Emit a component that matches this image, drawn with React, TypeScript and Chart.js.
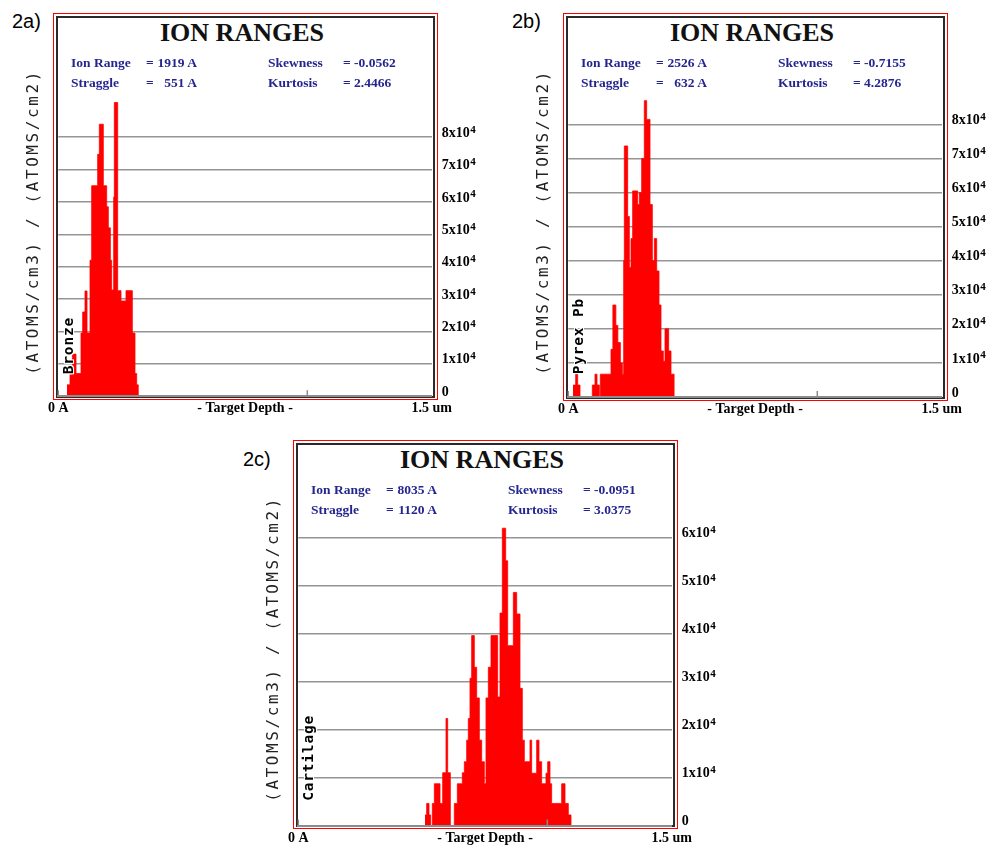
import React, { useEffect, useRef } from "react";
import { Chart, registerables } from "chart.js";

Chart.register(...registerables);

// ---------- data (depth in Å = left edge of each step, value in (atoms/cm3)/(atoms/cm2)) ----------
const DEPTH_A = [349, 470, 564, 711, 912, 979, 1072, 1153, 1273, 1340, 1581, 1648, 1808, 1942, 2009, 2090, 2143, 2224, 2250, 2384, 2518, 2719, 2973, 3080, 3147, 3214];
const ION_A = [3500, 7000, 13000, 7000, 19500, 26000, 32500, 19500, 42000, 65000, 74700, 84000, 65000, 58500, 52000, 42000, 32800, 61500, 90700, 32600, 29400, 32600, 19500, 7000, 3500, 0];

const DEPTH_B = [189, 296, 376, 470, 965, 1072, 1153, 1246, 1286, 1715, 1790, 1910, 1990, 2090, 2170, 2224, 2250, 2384, 2451, 2518, 2585, 2786, 2853, 2946, 3053, 3147, 3281, 3375, 3455, 3549, 3643, 3723, 3816, 3884, 4030, 4124, 4250];
const ION_B = [3500, 6700, 3500, 0, 3500, 6700, 3500, 0, 6700, 14000, 27000, 21000, 16000, 10000, 6700, 40000, 73700, 53000, 38000, 46500, 60500, 56500, 60000, 70000, 87000, 81500, 56500, 40000, 46500, 37000, 27000, 13500, 10500, 20000, 13500, 6700, 0];

const DEPTH_C = [5088, 5155, 5249, 5316, 5383, 5463, 5691, 5798, 5932, 5999, 6106, 6266, 6387, 6587, 6668, 6762, 6828, 6895, 6962, 7069, 7163, 7270, 7364, 7471, 7538, 7632, 7739, 8006, 8100, 8194, 8328, 8408, 8636, 8770, 8903, 8997, 9077, 9305, 9372, 9573, 9666, 9773, 9947, 10015, 10108, 10175, 10577, 10711, 10844, 10952];
const ION_C = [2200, 4600, 2200, 0, 4600, 8700, 4600, 11000, 22300, 11000, 0, 4600, 8700, 11000, 13300, 17800, 22300, 30700, 39600, 33000, 26600, 17800, 13300, 8700, 26600, 33000, 39600, 26800, 44300, 62000, 55200, 37500, 48600, 44100, 28600, 17800, 13300, 17800, 10900, 17800, 13300, 8700, 10900, 13300, 8700, 4600, 8700, 4600, 2200, 0];

const Y_TICKS_AB = [0, 10000, 20000, 30000, 40000, 50000, 60000, 70000, 80000];
const Y_TICKS_C = [0, 10000, 20000, 30000, 40000, 50000, 60000];
const X_TICKS = [0, 7500, 15000];
const X_TICK_LABELS = ["0 A", "- Target Depth -", "1.5 um"];
const X_MARKS = [0, 10000];

const MATERIALS = ["Bronze", "Pyrex Pb", "Cartilage"];
const TAGS = ["2a)", "2b)", "2c)"];
const ION_RANGE = ["1919 A", "2526 A", "8035 A"];
const STRAGGLE = ["551 A", "632 A", "1120 A"];
const SKEWNESS = ["-0.0562", "-0.7155", "-0.0951"];
const KURTOSIS = ["2.4466", "4.2876", "3.0375"];
const Y_TITLE = "(ATOMS/cm3) / (ATOMS/cm2)";

type Spec = {
  idx: number;
  ox: number; oy: number; ow: number; oh: number;
  tagX: number; tagY: number;
  plotL: number; plotB: number; ppu: number; yMax: number;
  depth: number[]; ion: number[]; yTicks: number[];
};

const SPECS: Spec[] = [
  { idx: 0, ox: 53, oy: 13, ow: 385, oh: 387, tagX: 12, tagY: 9, plotL: 58.3, plotB: 396.2, ppu: 33.2, yMax: 100000, depth: DEPTH_A, ion: ION_A, yTicks: Y_TICKS_AB },
  { idx: 1, ox: 563, oy: 13, ow: 385, oh: 388, tagX: 512, tagY: 9, plotL: 568.3, plotB: 397, ppu: 34.9, yMax: 95000, depth: DEPTH_B, ion: ION_B, yTicks: Y_TICKS_AB },
  { idx: 2, ox: 293, oy: 440, ow: 385, oh: 389, tagX: 243, tagY: 447, plotL: 298.3, plotB: 825.5, ppu: 49.1, yMax: 68000, depth: DEPTH_C, ion: ION_C, yTicks: Y_TICKS_C },
];

const SERIF = "'Liberation Serif', 'Times New Roman', serif";
const NAVY = "#25258f";
const TICK_FONT = { family: SERIF, weight: "bold", size: 14 };

// small tick marks on the depth axis + superscript exponent of the y tick labels
const extras = {
  id: "extras",
  afterDraw(chart: any) {
    const { ctx, chartArea, scales } = chart;
    ctx.save();
    ctx.strokeStyle = "#8c8c8c";
    ctx.lineWidth = 1.5;
    for (const v of X_MARKS) {
      const px = scales.x.getPixelForValue(v);
      ctx.beginPath();
      ctx.moveTo(px, chartArea.bottom);
      ctx.lineTo(px, chartArea.bottom - 6);
      ctx.stroke();
    }
    const y = scales.y;
    ctx.fillStyle = "#000";
    ctx.textBaseline = "alphabetic";
    ctx.textAlign = "left";
    for (const t of y.ticks) {
      if (t.value === 0) continue;
      ctx.font = `bold 14px ${SERIF}`;
      const w = ctx.measureText(yLabel(t.value)).width;
      const py = y.getPixelForValue(t.value) - 4;
      ctx.font = `bold 11px ${SERIF}`;
      ctx.fillText("4", chartArea.right + 10 + w + 0.5, py - 0.5);
    }
    ctx.restore();
  },
};

function yLabel(v: number) {
  if (v === 0) return "0";
  return `${v / 10000}x10`;
}

function IonChart({ spec }: { spec: Spec }) {
  const ref = useRef<HTMLCanvasElement>(null);
  const plotT = spec.plotB - (spec.yMax / 10000) * spec.ppu;
  const plotR = spec.plotL + 373.5;
  const YW = 54;
  const XH = 26;
  const cx = Math.floor(spec.plotL - 14);
  const cy = Math.floor(plotT - 10);
  const cw = Math.ceil(plotR + 64 - cx);
  const ch = Math.ceil(spec.plotB + 30 - cy);

  useEffect(() => {
    const chart = new Chart(ref.current as HTMLCanvasElement, {
      type: "line",
      data: {
        datasets: [
          {
            data: spec.depth.map((x, i) => ({ x, y: spec.ion[i] })),
            stepped: true,
            fill: "origin",
            backgroundColor: "#ff0000",
            borderColor: "#ff0000",
            borderWidth: 0.8,
            pointRadius: 0,
          } as any,
        ],
      },
      options: {
        responsive: false,
        animation: false,
        devicePixelRatio: 1,
        layout: {
          padding: {
            left: spec.plotL - cx,
            top: plotT - cy,
            right: cx + cw - plotR - YW,
            bottom: cy + ch - spec.plotB - XH,
          },
        },
        plugins: { legend: { display: false }, tooltip: { enabled: false } },
        scales: {
          x: {
            type: "linear",
            min: 0,
            max: 15000,
            afterBuildTicks: (s: any) => {
              s.ticks = X_TICKS.map((v) => ({ value: v }));
            },
            afterFit: (s: any) => {
              s.height = XH;
            },
            grid: { drawOnChartArea: false, drawTicks: false },
            border: { color: "#8c8c8c", width: 2, z: 1 },
            ticks: {
              callback: (v: any) => {
                const i = X_TICKS.indexOf(Number(v));
                return i >= 0 ? X_TICK_LABELS[i] : "";
              },
              font: TICK_FONT,
              color: "#000",
              padding: 4,
              maxRotation: 0,
              autoSkip: false,
            },
          },
          y: {
            position: "right",
            min: 0,
            max: spec.yMax,
            afterBuildTicks: (s: any) => {
              s.ticks = spec.yTicks.map((v) => ({ value: v }));
            },
            afterFit: (s: any) => {
              s.width = YW;
            },
            grid: {
              color: (c: any) => (c.tick && c.tick.value === 0 ? "rgba(0,0,0,0)" : "#959595"),
              lineWidth: 1.6,
              drawTicks: false,
            },
            border: { display: false },
            ticks: {
              callback: (v: any) => yLabel(Number(v)),
              font: TICK_FONT,
              color: "#000",
              padding: 10,
              labelOffset: -4,
            },
          },
        },
      } as any,
      plugins: [extras],
    });
    return () => chart.destroy();
  }, []);

  return (
    <canvas
      ref={ref}
      width={cw}
      height={ch}
      style={{ position: "absolute", left: cx, top: cy, width: cw, height: ch, zIndex: 2 }}
    />
  );
}

function VText({ cx, y0, y1, end, style, children }: any) {
  return (
    <div
      style={{
        position: "absolute",
        left: cx - 20,
        width: 40,
        top: y0,
        height: y1 - y0,
        display: "flex",
        flexDirection: "column",
        alignItems: "center",
        justifyContent: end ? "flex-end" : "center",
        zIndex: 3,
      }}
    >
      <span style={{ writingMode: "vertical-rl", transform: "rotate(180deg)", whiteSpace: "pre", ...style }}>
        {children}
      </span>
    </div>
  );
}

function Panel({ spec }: { spec: Spec }) {
  const { ox, oy, ow, oh, idx } = spec;
  const statStyle: React.CSSProperties = {
    position: "absolute",
    fontFamily: SERIF,
    fontWeight: "bold",
    fontSize: 13.5,
    color: NAVY,
    lineHeight: "20px",
    whiteSpace: "pre",
    zIndex: 3,
  };
  return (
    <>
      <div
        style={{
          position: "absolute",
          left: spec.tagX,
          top: spec.tagY,
          fontFamily: "'Liberation Sans', Arial, sans-serif",
          fontSize: 20,
          lineHeight: "24px",
          color: "#000",
        }}
      >
        {TAGS[idx]}
      </div>
      <div
        style={{
          position: "absolute",
          left: ox,
          top: oy,
          width: ow,
          height: oh,
          boxSizing: "border-box",
          border: "1.5px solid #ff0000",
          zIndex: 1,
        }}
      />
      <div
        style={{
          position: "absolute",
          left: ox + 2.7,
          top: oy + 2.7,
          width: ow - 5.4,
          height: oh - 4.5,
          boxSizing: "border-box",
          border: "2px solid #2a2a2a",
          zIndex: 1,
        }}
      />
      <div
        style={{
          position: "absolute",
          left: ox,
          width: 378,
          top: oy + 5,
          textAlign: "center",
          fontFamily: SERIF,
          fontWeight: "bold",
          fontSize: 26,
          lineHeight: "30px",
          color: "#111",
          zIndex: 3,
        }}
      >
        ION RANGES
      </div>
      <div style={{ ...statStyle, left: ox + 18, top: oy + 40 }}>Ion Range</div>
      <div style={{ ...statStyle, left: ox + 18, top: oy + 60 }}>Straggle</div>
      <div style={{ ...statStyle, left: ox + 93, top: oy + 40 }}>=</div>
      <div style={{ ...statStyle, left: ox + 93, top: oy + 60 }}>=</div>
      <div style={{ ...statStyle, left: ox + 84, width: 60, textAlign: "right", top: oy + 40 }}>{ION_RANGE[idx]}</div>
      <div style={{ ...statStyle, left: ox + 84, width: 60, textAlign: "right", top: oy + 60 }}>{STRAGGLE[idx]}</div>
      <div style={{ ...statStyle, left: ox + 215, top: oy + 40 }}>Skewness</div>
      <div style={{ ...statStyle, left: ox + 215, top: oy + 60 }}>Kurtosis</div>
      <div style={{ ...statStyle, left: ox + 290, top: oy + 40 }}>{"= " + SKEWNESS[idx]}</div>
      <div style={{ ...statStyle, left: ox + 290, top: oy + 60 }}>{"= " + KURTOSIS[idx]}</div>
      <VText
        cx={ox - 20}
        y0={oy + 9}
        y1={oy + 409}
        style={{
          fontFamily: "'DejaVu Sans Mono', monospace",
          fontSize: 16,
          letterSpacing: "2.6px",
          color: "#222",
          lineHeight: "18px",
        }}
      >
        {Y_TITLE}
      </VText>
      <VText
        cx={ox + 15}
        y0={oy + 200}
        y1={oy + 361}
        end
        style={{
          fontFamily: "'DejaVu Sans Mono', monospace",
          fontWeight: "bold",
          fontSize: 14.5,
          letterSpacing: "0.8px",
          color: "#000",
          lineHeight: "16px",
          textShadow: "0 0 2px #fff, 1px 1px 0 #fff, -1px -1px 0 #fff, 1px -1px 0 #fff, -1px 1px 0 #fff",
        }}
      >
        {MATERIALS[idx]}
      </VText>
      <IonChart spec={spec} />
    </>
  );
}

export default function App() {
  return (
    <div
      style={{
        position: "absolute",
        left: 0,
        top: 0,
        width: 992,
        height: 848,
        background: "#fff",
        overflow: "hidden",
      }}
    >
      {SPECS.map((s) => (
        <Panel key={s.idx} spec={s} />
      ))}
    </div>
  );
}
